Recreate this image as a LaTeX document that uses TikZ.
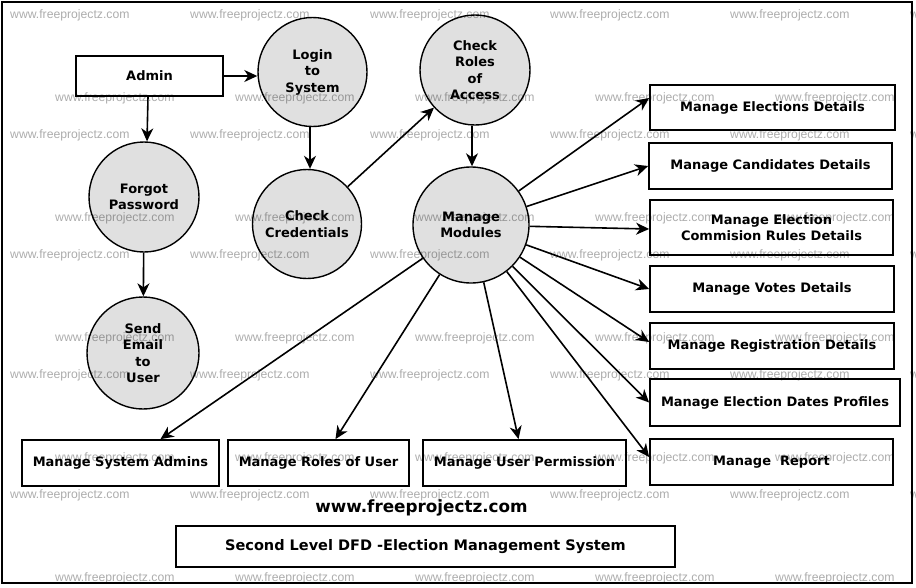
\documentclass[tikz,border=0pt]{standalone}
\usepackage{fontspec}
\setmainfont{DejaVu Sans}
\newfontfamily\wmfont{Liberation Sans}
\usetikzlibrary{arrows.meta}

\definecolor{wmgray}{RGB}{172,172,172}
\newcommand{\dfdfont}{\bfseries\fontsize{13}{16.5}\selectfont}

\tikzset{
  process/.style={circle, draw, line width=1.4pt, fill=black, fill opacity=0.12,
    text opacity=1, align=center, inner sep=0pt, font=\dfdfont},
  entity/.style={rectangle, draw, line width=1.8pt, align=center, inner sep=0pt,
    minimum height=46pt, font=\dfdfont},
  flow/.style={-{Stealth[length=13pt,width=12pt,inset=4pt]}, line width=1.6pt},
  wmtext/.style={anchor=west, inner sep=0pt, text=wmgray, font=\wmfont\fontsize{12.2}{14}\selectfont}
}

\begin{document}
\begin{tikzpicture}[x=1pt,y=-1pt]
      \useasboundingbox (0,0) rectangle (916,587);

      % watermark
      \foreach \wy in {15,135,255,375,495}
        \foreach \wx in {10,190,370,550,730,910}
          \node[wmtext] at (\wx,\wy) {www.freeprojectz.com};
      \foreach \wy in {98,218,338,458,578}
        \foreach \wx in {55,235,415,595,775}
          \node[wmtext] at (\wx,\wy) {www.freeprojectz.com};

      % frame
      \draw [line width=2pt] (2,2) rectangle (912,583);

      % admin side
      \node[entity, minimum width=147pt, minimum height=40pt] (admin) at (149.5,76) {Admin};
      \node[process, minimum size=109pt] (login) at (312.5,72) {Login\\to\\System};
      \node[process, minimum size=110pt] (forgot) at (144,197) {Forgot\\Password};
      \node[process, minimum size=112pt] (email) at (143,353) {Send\\Email\\to\\User};
      \node[process, minimum size=109pt] (cred) at (307,224) {Check\\Credentials};
      \node[process, minimum size=110pt] (roles) at (475,70) {Check\\Roles\\of\\Access};
      \node[process, minimum size=116pt] (modules) at (471,225) {Manage\\Modules};

      % modules on the right
      \node[entity, minimum width=245pt, minimum height=45pt] (elections) at (772.5,107.5) {Manage Elections Details};
      \node[entity, minimum width=243pt] (candidates) at (770.5,166) {Manage Candidates Details};
      \node[entity, minimum width=243pt, minimum height=55pt] (rules) at (771.5,227.5) {Manage Election\\Commision Rules Details};
      \node[entity, minimum width=244pt] (votes) at (772,289) {Manage Votes Details};
      \node[entity, minimum width=244pt] (registration) at (772,346) {Manage Registration Details};
      \node[entity, minimum width=250pt, minimum height=47pt] (dates) at (775,402.5) {Manage Election Dates Profiles};
      \node[entity, minimum width=243pt] (report) at (771.5,462) {Manage\ \ Report};

      % modules at the bottom
      \node[entity, minimum width=197pt] (sysadmins) at (120.5,463) {Manage System Admins};
      \node[entity, minimum width=181pt] (userroles) at (318.5,463) {Manage Roles of User};
      \node[entity, minimum width=203pt] (permission) at (524.5,463) {Manage User Permission};

      % site and title
      \node[anchor=base, inner sep=0pt, font=\bfseries\fontsize{16.8}{20}\selectfont] (site) at (421.5,512) {www.freeprojectz.com};
      \node[entity, minimum width=499pt, minimum height=41pt, font=\bfseries\fontsize{14.5}{17}\selectfont] (title) at (425.5,546.5) {Second Level DFD -Election Management System};

      % flows
      \draw [flow] (admin.east) -- (admin.east -| login.west);
      \draw [flow] ([xshift=-1.5pt]admin.south) -- ([xshift=3pt]forgot.north);
      \draw [flow] (forgot) -- (email);
      \draw [flow] ([xshift=-2.5pt]login.south) -- ([xshift=-2.5pt]login.south |- cred.north);
      \draw [flow] (cred) -- (roles);
      \draw [flow] ([xshift=1pt]modules.north |- roles.south) -- ([xshift=1pt]modules.north);

      \draw [flow] (modules) -- ([yshift=9.5pt]elections.west);
      \draw [flow] (modules) -- (candidates.west);
      \draw [flow] (modules) -- ([yshift=-1.5pt]rules.west);
      \draw [flow] (modules) -- (votes.west);
      \draw [flow] (modules) -- ([yshift=4pt]registration.west);
      \draw [flow] (modules) -- (dates.west);
      \draw [flow] (modules) -- ([yshift=5pt]report.west);
      \draw [flow] (modules) -- ([xshift=-6pt]permission.north);
      \draw [flow] (modules) -- ([xshift=17pt]userroles.north);
      \draw [flow] (modules) -- ([xshift=40pt]sysadmins.north);

    \end{tikzpicture}
\end{document}
